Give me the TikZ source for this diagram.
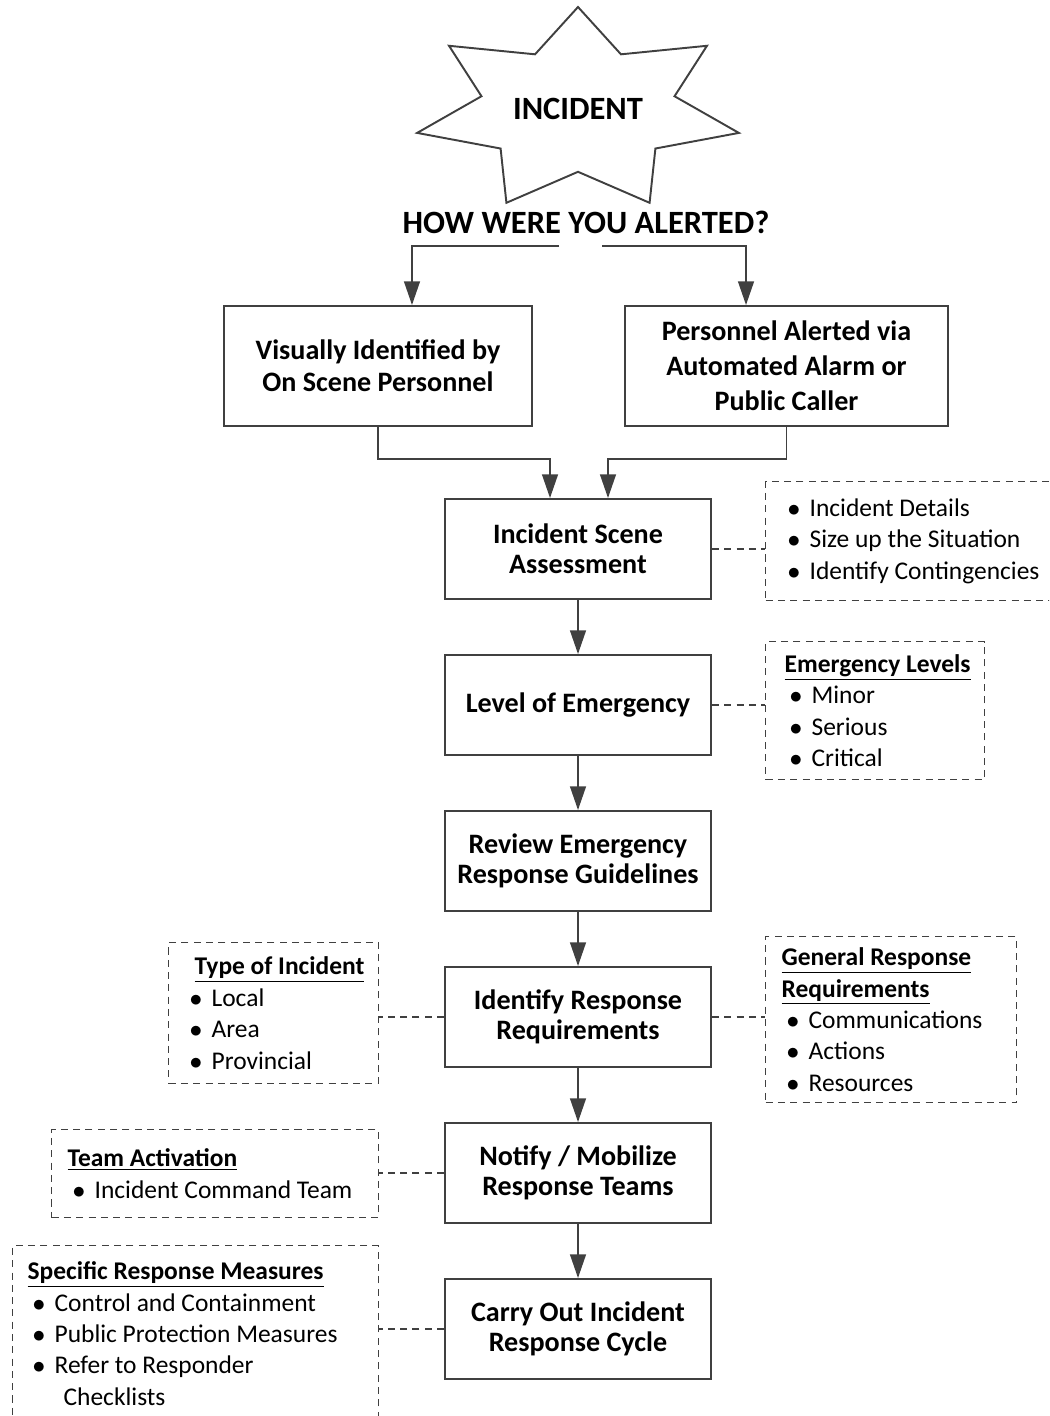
\documentclass[tikz,border=0pt]{standalone}
\usepackage{fontspec}
\setmainfont{Carlito}
\usetikzlibrary{arrows.meta}
\definecolor{linegray}{RGB}{64,64,64}
\newcommand\boxfont{\fontsize{16}{17}\selectfont\bfseries}
\newcommand\notefont{\fontsize{14.5}{17.9}\selectfont}
\newcommand\bul{\hspace*{0.1cm}\makebox[0.44cm][l]{$\bullet$}}
\newcommand\ttl[1]{\underline{\textbf{#1}}}
\tikzset{
    box/.style={draw=linegray, line width=1.1pt, minimum width=5.32cm, minimum height=2cm, align=center, font=\boxfont},
    note/.style={draw=linegray, line width=0.7pt, dash pattern=on 4pt off 3pt, anchor=north west, align=flush left, inner ysep=0pt, font=\notefont},
    arr/.style={draw=linegray, line width=1.1pt, -{Triangle[length=13.5pt,width=9pt]}},
    link/.style={draw=linegray, line width=0.7pt, dash pattern=on 4pt off 3pt},
}
\begin{document}
\begin{tikzpicture}[x=0.02cm,y=-0.02cm]
\useasboundingbox (0,0) rectangle (1049,1416);
\clip (0,0) rectangle (1049,1416);

% the star
\draw[draw=linegray, line width=1.1pt] (578,7)
    \foreach \i in {1,...,13}{ -- ({578+165*(1-0.4*mod(\i,2))*cos(90+\i*360/14)},{110-103*(1-0.4*mod(\i,2))*sin(90+\i*360/14)}) } -- cycle;
\node[font=\fontsize{18.5}{20}\selectfont\bfseries] (incident) at (578,109) {INCIDENT};
\node[font=\fontsize{18.5}{20}\selectfont\bfseries] (alert) at (586,222) {HOW WERE YOU ALERTED?};

% main boxes
\node[box, minimum width=6.16cm, minimum height=2.4cm, font=\fontsize{16}{18}\selectfont\bfseries] (visual) at (378,366) {Visually Identified by\\On Scene Personnel};
\node[box, minimum width=6.46cm, minimum height=2.4cm, font=\fontsize{16}{20}\selectfont\bfseries] (caller) at (786.5,366) {Personnel Alerted via\\Automated Alarm or\\Public Caller};
\node[box] (assess) at (578,549) {Incident Scene\\Assessment};
\node[box] (level) at (578,705) {Level of Emergency};
\node[box] (review) at (578,861) {Review Emergency\\Response Guidelines};
\node[box] (respreq) at (578,1017) {Identify Response\\Requirements};
\node[box] (notify) at (578,1173) {Notify / Mobilize\\Response Teams};
\node[box] (carry) at (578,1329) {Carry Out Incident\\Response Cycle};

% side notes
\node[note, text width=5.52cm, inner xsep=0.34cm, minimum height=2.38cm] (details) at (765,481)
    {\bul Incident Details\\\bul Size up the Situation\\\bul Identify Contingencies};
\node[note, text width=3.62cm, inner xsep=0.38cm, minimum height=2.76cm] (levels) at (765,641)
    {\ttl{Emergency Levels}\\\bul Minor\\\bul Serious\\\bul Critical};
\node[note, text width=3.56cm, inner xsep=0.32cm, minimum height=2.82cm] (types) at (168,942)
    {\hspace*{0.2cm}\ttl{Type of Incident}\\\bul Local\\\bul Area\\\bul Provincial};
\node[note, text width=4.38cm, inner xsep=0.32cm, minimum height=3.32cm] (general) at (765,936)
    {\ttl{General Response}\\\ttl{Requirements}\\\bul Communications\\\bul Actions\\\bul Resources};
\node[note, text width=5.9cm, inner xsep=0.32cm, minimum height=1.76cm] (teams) at (51,1129)
    {\ttl{Team Activation}\\\bul Incident Command Team};
\node[note, text width=6.72cm, inner xsep=0.3cm, minimum height=3.52cm] (measures) at (12,1245)
    {\ttl{Specific Response Measures}\\\bul Control and Containment\\\bul Public Protection Measures\\\bul Refer to Responder\\\hspace*{0.72cm}Checklists};

% connectors
\coordinate (splitL) at (559,246);
\coordinate (splitR) at (602,246);
\draw[arr] (splitL) -| ([xshift=0.68cm]visual.north);
\draw[arr] (splitR) -| ([xshift=-0.81cm]caller.north);
\draw[arr] (visual.south) -- ++(0,32) -| ([xshift=-0.56cm]assess.north);
\draw[arr] (caller.south) -- ++(0,32) -| ([xshift=0.6cm]assess.north);
\foreach \a/\b in {assess/level, level/review, review/respreq, respreq/notify, notify/carry}
{
    \draw[arr] (\a) -- (\b);
}
\draw[link] (assess.east) -- (assess.east -| details.west);
\draw[link] (level.east) -- (level.east -| levels.west);
\draw[link] (respreq.west) -- (respreq.west -| types.east);
\draw[link] (respreq.east) -- (respreq.east -| general.west);
\draw[link] (notify.west) -- (notify.west -| teams.east);
\draw[link] (carry.west) -- (carry.west -| measures.east);
\end{tikzpicture}
\end{document}
